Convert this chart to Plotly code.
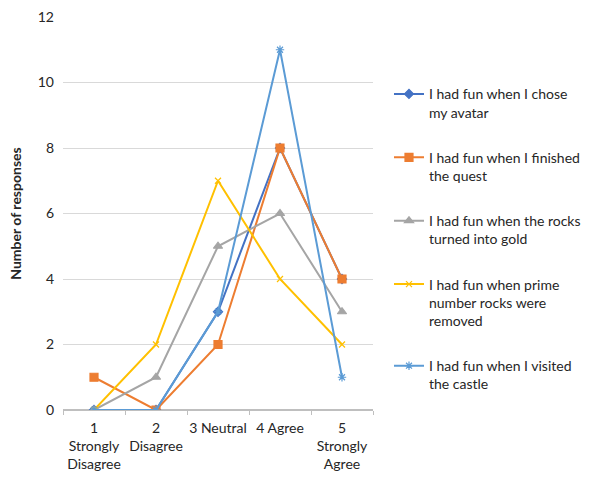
import plotly.graph_objects as go

# Likert scale categories
categories = ["1<br>Strongly<br>Disagree", "2<br>Disagree", "3 Neutral", "4 Agree", "5<br>Strongly<br>Agree"]

# Survey statements (legend labels, wrapped)
statements = [
    "I had fun when I chose<br>my avatar",
    "I had fun when I finished<br>the quest",
    "I had fun when the rocks<br>turned into gold",
    "I had fun when prime<br>number rocks were<br>removed",
    "I had fun when I visited<br>the castle",
]

# Number of responses per category
avatar = [0, 0, 3, 8, 4]
quest = [1, 0, 2, 8, 4]
rocks_gold = [0, 1, 5, 6, 3]
prime_rocks = [0, 2, 7, 4, 2]
castle = [0, 0, 3, 11, 1]

series = [avatar, quest, rocks_gold, prime_rocks, castle]
colors = ["#4472C4", "#ED7D31", "#A5A5A5", "#FFC000", "#5B9BD5"]
symbols = ["diamond", "square", "triangle-up", "x-thin-open", "asterisk-open"]
sizes = [7, 8, 8, 6, 7]

fig = go.Figure()
for name, vals, col, sym, sz in zip(statements, series, colors, symbols, sizes):
    fig.add_trace(go.Scatter(
        x=categories, y=vals, name=name, mode="lines+markers",
        line=dict(color=col, width=2),
        marker=dict(symbol=sym, size=sz, color=col, line=dict(color=col, width=1.2)),
        legendgroup=name,
    ))

font_family = "Lato, 'Open Sans', sans-serif"
text_col = "#262626"

fig.update_layout(
    width=589, height=477,
    margin=dict(l=63, r=216, t=17, b=67, autoexpand=False),
    paper_bgcolor="white", plot_bgcolor="white",
    font=dict(family=font_family, size=14, color=text_col),
    showlegend=True,
    legend=dict(
        x=1.0516, xanchor="left", y=0.844, yanchor="top",
        valign="top", tracegroupgap=24, maxheight=420,
        font=dict(size=14, color=text_col),
        bgcolor="rgba(0,0,0,0)",
    ),
    xaxis=dict(
        type="category", range=[-0.5, 4.5], showgrid=False, zeroline=False,
        showline=False, ticks="outside", tickson="boundaries",
        ticklen=4, tickcolor="#BFBFBF", ticklabelstandoff=8,
        tickangle=0, automargin=False,
        tickfont=dict(size=14, color=text_col),
    ),
    yaxis=dict(
        range=[0, 12], dtick=2, showgrid=True, gridcolor="#D9D9D9", gridwidth=1,
        zeroline=True, zerolinecolor="#BFBFBF", zerolinewidth=1.5,
        showline=False, ticks="", ticklabelstandoff=8, automargin=False,
        tickfont=dict(size=14, color=text_col),
        title=dict(text="<b>Number of responses</b>", font=dict(size=14, color=text_col), standoff=12),
    ),
)

fig.write_html("out.html")
